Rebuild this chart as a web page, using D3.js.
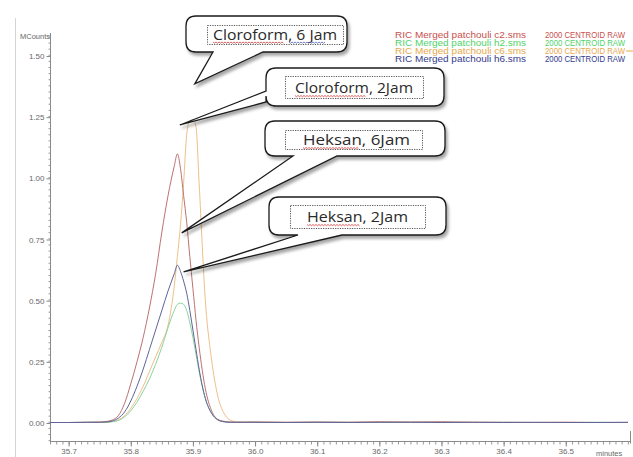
<!DOCTYPE html>
<html>
<head>
<meta charset="utf-8">
<script src="https://cdn.jsdelivr.net/npm/d3@7"></script>
<style>
  html, body { margin: 0; padding: 0; background: #fff; }
  svg { display: block; }
  .tick text { font-family: "Liberation Sans", Arial, sans-serif; fill: #6a6a6a; }
</style>
</head>
<body>
<div id="chart"></div>
<script>
// retention time (minutes)
var times = [35.67, 35.70, 35.73, 35.75, 35.76, 35.77, 35.78, 35.79, 35.80, 35.81, 35.82, 35.83,
  35.84, 35.85, 35.86, 35.87, 35.875, 35.88, 35.885, 35.89, 35.895, 35.90, 35.905, 35.91,
  35.92, 35.93, 35.94, 35.95, 35.96, 35.97, 35.98, 36.00, 36.05, 36.10, 36.15, 36.20,
  36.25, 36.30, 36.35, 36.40, 36.45, 36.50, 36.55, 36.60];

// MCounts for each run
var c2 = [0.002, 0.002, 0.003, 0.004, 0.006, 0.012, 0.03, 0.08, 0.16, 0.25, 0.35, 0.47,
  0.61, 0.78, 0.93, 1.05, 1.10, 1.04, 0.93, 0.82, 0.68, 0.55, 0.42, 0.31,
  0.14, 0.05, 0.015, 0.007, 0.004, 0.003, 0.003, 0.004, 0.003, 0.004, 0.003, 0.005,
  0.004, 0.005, 0.003, 0.003, 0.002, 0.003, 0.002, 0.002];
var h2 = [0.002, 0.002, 0.003, 0.003, 0.003, 0.005, 0.01, 0.025, 0.05, 0.085, 0.13, 0.18,
  0.24, 0.31, 0.39, 0.46, 0.485, 0.49, 0.485, 0.46, 0.41, 0.35, 0.28, 0.21,
  0.10, 0.04, 0.013, 0.005, 0.003, 0.003, 0.003, 0.003, 0.002, 0.003, 0.003, 0.002,
  0.003, 0.003, 0.002, 0.003, 0.002, 0.002, 0.003, 0.002];
var c6 = [0.002, 0.002, 0.002, 0.003, 0.003, 0.006, 0.013, 0.03, 0.06, 0.10, 0.15, 0.21,
  0.27, 0.33, 0.40, 0.56, 0.68, 0.81, 0.98, 1.18, 1.235, 1.24, 1.21, 0.98,
  0.50, 0.26, 0.11, 0.04, 0.012, 0.005, 0.004, 0.003, 0.003, 0.002, 0.003, 0.003,
  0.002, 0.003, 0.003, 0.002, 0.002, 0.003, 0.002, 0.002];
var h6 = [0.002, 0.002, 0.003, 0.003, 0.004, 0.008, 0.02, 0.045, 0.09, 0.15, 0.22, 0.30,
  0.38, 0.46, 0.54, 0.61, 0.645, 0.62, 0.58, 0.53, 0.46, 0.38, 0.30, 0.22,
  0.10, 0.04, 0.013, 0.005, 0.003, 0.003, 0.003, 0.003, 0.002, 0.003, 0.002, 0.003,
  0.003, 0.002, 0.003, 0.002, 0.003, 0.002, 0.002, 0.003];

var seriesNames = ["RIC Merged patchouli c2.sms", "RIC Merged patchouli h2.sms",
  "RIC Merged patchouli c6.sms", "RIC Merged patchouli h6.sms"];
var seriesTail = "2000 CENTROID RAW";
var seriesColors = ["#c8504d", "#4fd26a", "#e7a94f", "#333a8c"];
var lineColors = ["#bc7272", "#8ad3a0", "#edc08a", "#5f6498"];

var xTicks = [35.7, 35.8, 35.9, 36.0, 36.1, 36.2, 36.3, 36.4, 36.5];
var yTicks = [0, 0.25, 0.50, 0.75, 1.00, 1.25, 1.50];

// callouts: label and where the pointer ends (time, MCounts)
var calloutLabels = ["Cloroform, 6 Jam", "Cloroform, 2Jam", "Heksan, 6Jam", "Heksan, 2Jam"];
var calloutTipT = [35.903, 35.879, 35.882, 35.885];
var calloutTipV = [1.386, 1.218, 0.777, 0.618];

var W = 633, H = 457;
var svg = d3.select('#chart').append('svg').attr('width', W).attr('height', H);

var defs = svg.append('defs');
defs.append('filter').attr('id', 'shadow')
  .attr('x', '-10%').attr('y', '-20%').attr('width', '130%').attr('height', '160%')
  .append('feDropShadow')
  .attr('dx', 2).attr('dy', 3).attr('stdDeviation', 1.6)
  .attr('flood-color', '#000').attr('flood-opacity', 0.35);

var x = d3.scaleLinear().domain([35.67, 36.605]).range([50, 631]);
var y = d3.scaleLinear().domain([0, 1.5]).range([423, 56]);
var yBottom = 441.5, yTop = 33;

// page frame line
svg.append('line').attr('x1', 15.5).attr('x2', 15.5).attr('y1', 18).attr('y2', H)
  .attr('stroke', '#d4d4d4');

// y axis
var yMinor = d3.range(-70, 1581, 25).map(function(d) { return d / 1000; });
svg.append('g').attr('transform', 'translate(50.5,0)')
  .call(d3.axisLeft(y).tickValues(yMinor).tickSize(2).tickSizeOuter(0).tickFormat(''))
  .call(function(g) { g.select('.domain').remove(); })
  .selectAll('line').attr('stroke', '#9a9a9a');
svg.append('g').attr('transform', 'translate(50.5,0)')
  .call(d3.axisLeft(y).tickValues(yTicks).tickSize(4).tickPadding(2).tickSizeOuter(0)
    .tickFormat(d3.format('.2f')))
  .call(function(g) {
    g.select('.domain').remove();
    g.selectAll('line').attr('stroke', '#888');
    g.selectAll('text').style('font-size', '8px');
  });
svg.append('line').attr('x1', 50.5).attr('x2', 50.5).attr('y1', yTop).attr('y2', yBottom)
  .attr('stroke', '#8a8a8a');
svg.append('text').attr('x', 50).attr('y', 39).attr('text-anchor', 'end')
  .style('font-family', '"Liberation Sans", Arial, sans-serif').style('font-size', '7.5px')
  .attr('fill', '#666').text('MCounts');

// x axis
var xMinor = d3.range(3567, 3661, 1).map(function(d) { return d / 100; });
svg.append('g').attr('transform', 'translate(0,' + yBottom + ')')
  .call(d3.axisBottom(x).tickValues(xMinor).tickSize(3).tickSizeOuter(0).tickFormat(''))
  .call(function(g) { g.select('.domain').remove(); })
  .selectAll('line').attr('stroke', '#9a9a9a');
svg.append('g').attr('transform', 'translate(0,' + yBottom + ')')
  .call(d3.axisBottom(x).tickValues(xTicks).tickSize(5).tickPadding(2).tickSizeOuter(0)
    .tickFormat(d3.format('.1f')))
  .call(function(g) {
    g.select('.domain').remove();
    g.selectAll('line').attr('stroke', '#888');
    g.selectAll('text').style('font-size', '8px');
  });
svg.append('line').attr('x1', 50).attr('x2', 631).attr('y1', yBottom).attr('y2', yBottom)
  .attr('stroke', '#8a8a8a');
svg.append('line').attr('x1', 630.5).attr('x2', 630.5).attr('y1', 431).attr('y2', yBottom + 2)
  .attr('stroke', '#8a8a8a');
svg.append('text').attr('x', 596).attr('y', 456)
  .style('font-family', '"Liberation Sans", Arial, sans-serif').style('font-size', '7.5px')
  .attr('fill', '#6a6a6a').text('minutes');

// traces
var allSeries = [c2, h2, c6, h6];
var line = d3.line()
  .x(function(d) { return x(d[0]); })
  .y(function(d) { return y(d[1]); })
  .curve(d3.curveMonotoneX);
svg.append('g').selectAll('path')
  .data([c6, h2, c2, h6])
  .join('path')
  .attr('d', function(s) { return line(times.map(function(t, i) { return [t, s[i]]; })); })
  .attr('fill', 'none')
  .attr('stroke', function(s) { return lineColors[allSeries.indexOf(s)]; })
  .attr('stroke-width', 1);

// legend
var legend = svg.append('g').style('font-family', '"Liberation Sans", Arial, sans-serif')
  .style('font-size', '8.2px');
seriesNames.forEach(function(name, i) {
  var ly = 37.5 + i * 8;
  legend.append('text').attr('x', 395).attr('y', ly).attr('fill', seriesColors[i])
    .attr('textLength', 131).attr('lengthAdjust', 'spacingAndGlyphs').text(name);
  legend.append('text').attr('x', 545).attr('y', ly).attr('fill', seriesColors[i])
    .attr('textLength', 80).attr('lengthAdjust', 'spacingAndGlyphs').text(seriesTail);
});
legend.append('line').attr('x1', 626).attr('x2', 633).attr('y1', 51).attr('y2', 51)
  .attr('stroke', seriesColors[2]);

// speech bubbles
var boxes = [
  { x0: 186, y0: 16, x1: 347, y1: 52, side: 'bottom', a: 213, b: 263,
    inner: [207, 25, 343, 44], tx: 213, ty: 39.5, tw: 124, uw: 70 },
  { x0: 266, y0: 68, x1: 444, y1: 106, side: 'left', a: 91, b: 102,
    inner: [285, 76, 423, 98], tx: 295, ty: 93, tw: 118, uw: 70 },
  { x0: 265, y0: 121, x1: 445, y1: 156, side: 'bottom', a: 293, b: 337,
    inner: [285, 130, 422, 149], tx: 303, ty: 145, tw: 107, uw: 55 },
  { x0: 269, y0: 197, x1: 446, y1: 235, side: 'bottom', a: 298, b: 342,
    inner: [290, 205, 425, 228], tx: 307, ty: 222, tw: 101, uw: 52 }
];

function bubblePath(b, tip) {
  var r = 10, p = d3.path();
  p.moveTo(b.x0 + r, b.y0);
  p.lineTo(b.x1 - r, b.y0);
  p.quadraticCurveTo(b.x1, b.y0, b.x1, b.y0 + r);
  p.lineTo(b.x1, b.y1 - r);
  p.quadraticCurveTo(b.x1, b.y1, b.x1 - r, b.y1);
  if (b.side === 'bottom') {
    p.lineTo(b.b, b.y1);
    p.lineTo(tip[0], tip[1]);
    p.lineTo(b.a, b.y1);
  }
  p.lineTo(b.x0 + r, b.y1);
  p.quadraticCurveTo(b.x0, b.y1, b.x0, b.y1 - r);
  if (b.side === 'left') {
    p.lineTo(b.x0, b.b);
    p.lineTo(tip[0], tip[1]);
    p.lineTo(b.x0, b.a);
  }
  p.lineTo(b.x0, b.y0 + r);
  p.quadraticCurveTo(b.x0, b.y0, b.x0 + r, b.y0);
  p.closePath();
  return p.toString();
}

function wavy(x0, x1, yy) {
  var s = 'M' + x0 + ',' + yy;
  for (var xx = x0, k = 0; xx < x1; xx += 1.5, k++) {
    s += 'L' + (xx + 1.5) + ',' + (yy + (k % 2 ? 0 : 1.2));
  }
  return s;
}

var callouts = svg.append('g');
boxes.forEach(function(b, i) {
  var tip = [x(calloutTipT[i]), y(calloutTipV[i])];
  var g = callouts.append('g');
  g.append('path').attr('d', bubblePath(b, tip))
    .attr('fill', '#fff').attr('stroke', '#1a1a1a').attr('stroke-width', 1.3)
    .attr('filter', 'url(#shadow)');
  g.append('rect').attr('x', b.inner[0] + 0.5).attr('y', b.inner[1] + 0.5)
    .attr('width', b.inner[2] - b.inner[0]).attr('height', b.inner[3] - b.inner[1])
    .attr('fill', 'none').attr('stroke', '#444').attr('stroke-width', 0.9)
    .attr('stroke-dasharray', '1.2,1.2');
  g.append('text').attr('x', b.tx).attr('y', b.ty)
    .attr('textLength', b.tw).attr('lengthAdjust', 'spacingAndGlyphs')
    .style('font-family', '"Open Sans", Lato, sans-serif').style('font-size', '14px')
    .attr('fill', '#2a2a2a').text(calloutLabels[i]);
  g.append('path').attr('d', wavy(b.tx, b.tx + b.uw, b.ty + 2.5))
    .attr('fill', 'none').attr('stroke', '#d23a3a').attr('stroke-width', 0.8);
  if (i === 0) {
    g.append('path').attr('d', wavy(b.tx + 76, b.tx + 112, b.ty + 2.5))
      .attr('fill', 'none').attr('stroke', '#5560b0').attr('stroke-width', 0.8);
  }
});
</script>
</body>
</html>
